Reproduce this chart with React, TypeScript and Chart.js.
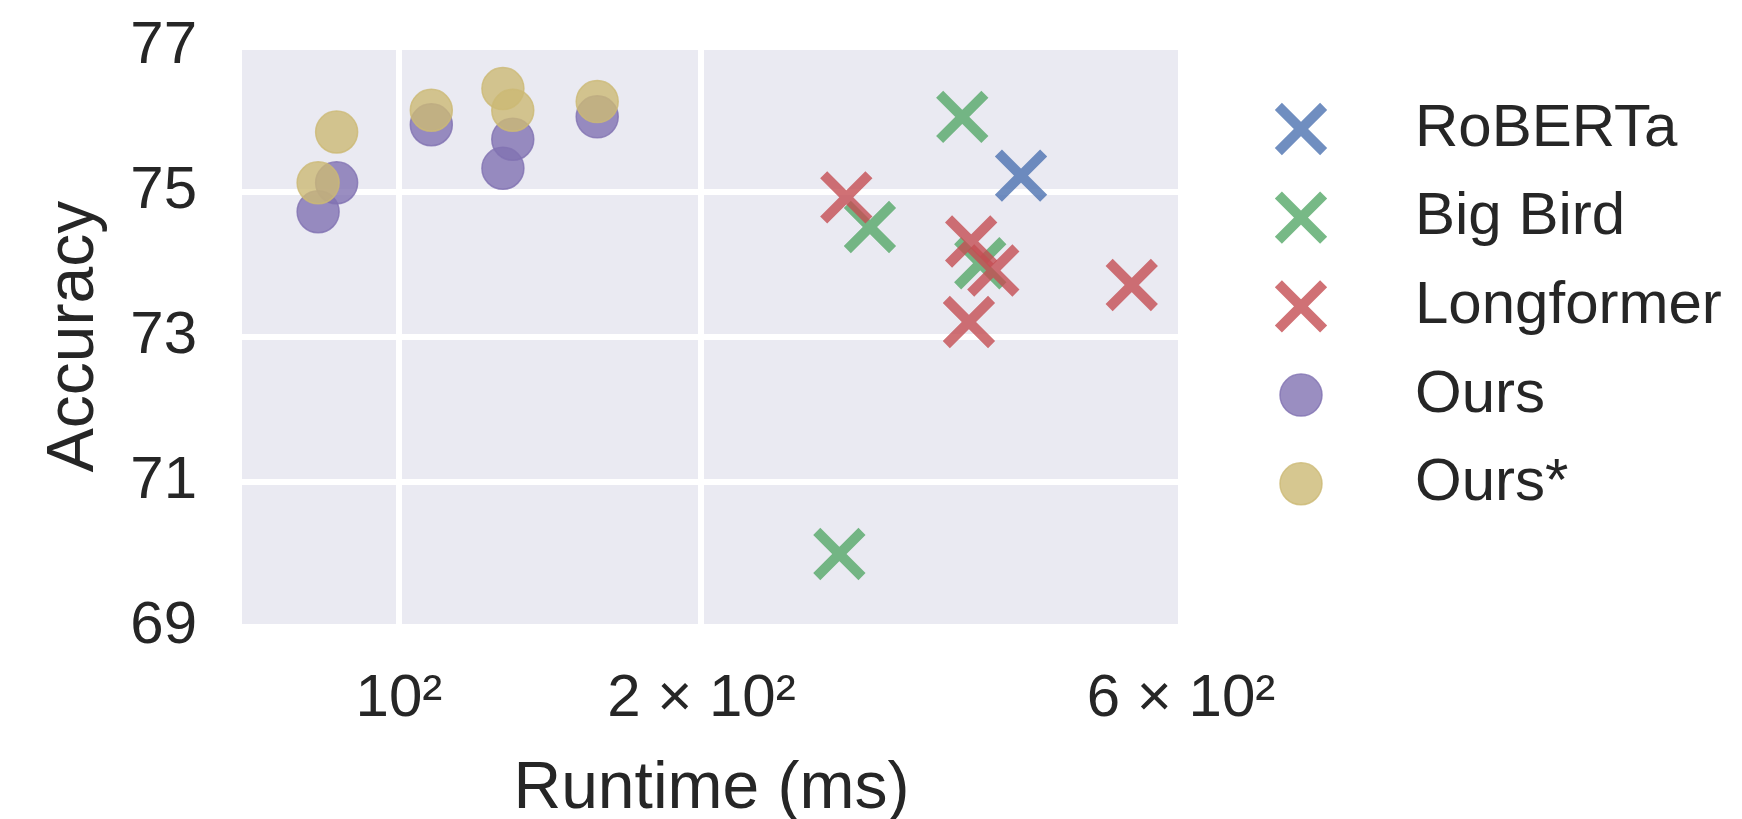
import React, { useEffect, useRef } from 'react';
import { Chart, registerables } from 'chart.js';
import { drawPoint } from 'chart.js/helpers';

Chart.register(...registerables);

// ---- data (runtime in ms, accuracy) ----
const SERIES_NAMES = ['RoBERTa', 'Big Bird', 'Longformer', 'Ours', 'Ours*'];

const robertaRuntime = [415.9];
const robertaAcc = [75.22];

const bigBirdRuntime = [363.5, 294.2, 378.8, 274.3];
const bigBirdAcc = [76.03, 74.51, 74.01, 70.0];

const longformerRuntime = [278.7, 371.0, 390.3, 369.1, 536.0];
const longformerAcc = [74.92, 74.31, 73.91, 73.2, 73.71];

const oursRuntime = [83.1, 86.7, 107.7, 126.9, 129.8, 157.5];
const oursAcc = [74.72, 75.12, 75.92, 75.32, 75.72, 76.03];

const oursStarRuntime = [83.1, 86.7, 107.7, 126.9, 129.8, 157.5];
const oursStarAcc = [75.12, 75.82, 76.12, 76.42, 76.12, 76.24];

const X_TICKS = [100, 200, 600];
const X_TICK_LABELS = ['10\u00B2', '2 \u00D7 10\u00B2', '6 \u00D7 10\u00B2'];
const Y_TICKS = [69, 71, 73, 75, 77];

const FONT = '"Liberation Sans", Arial, sans-serif';
const TEXT = '#262626';

const pts = (xs: number[], ys: number[]) => xs.map((x, i) => ({ x, y: ys[i] }));

const bgPlugin = {
  id: 'axesBg',
  beforeDraw(chart: any) {
    const { ctx, chartArea } = chart;
    ctx.save();
    ctx.fillStyle = '#EAEAF2';
    ctx.fillRect(chartArea.left, chartArea.top, chartArea.right - chartArea.left, chartArea.bottom - chartArea.top);
    ctx.restore();
  },
};

const legendPlugin = {
  id: 'sideLegend',
  afterDraw(chart: any) {
    const ctx = chart.ctx;
    const markerX = 1301;
    const textX = 1415;
    const top = 129;
    const step = 88.7;
    ctx.save();
    chart.data.datasets.forEach((ds: any, i: number) => {
      const y = top + i * step;
      ctx.fillStyle = ds.backgroundColor;
      ctx.strokeStyle = ds.borderColor;
      ctx.lineWidth = ds.borderWidth;
      drawPoint(ctx, { pointStyle: ds.pointStyle, radius: ds.pointRadius, rotation: 0, borderWidth: ds.borderWidth } as any, markerX, y);
      ctx.fillStyle = TEXT;
      ctx.font = `60px ${FONT}`;
      ctx.textAlign = 'left';
      ctx.textBaseline = 'middle';
      ctx.fillText(ds.label, textX, y);
    });
    ctx.restore();
  },
};

export default function App() {
  const ref = useRef<HTMLCanvasElement | null>(null);

  useEffect(() => {
    document.body.style.margin = '0';
    if (!ref.current) return;
    const cross = (label: string, color: string, data: any[], order: number) => ({
      label,
      data,
      pointStyle: 'crossRot',
      pointRadius: 32,
      borderWidth: 10,
      borderColor: color,
      backgroundColor: color,
      order,
    });
    const dot = (label: string, color: string, data: any[], order: number) => ({
      label,
      data,
      pointStyle: 'circle',
      pointRadius: 21,
      borderWidth: 1.5,
      borderColor: color,
      backgroundColor: color,
      order,
    });
    const chart = new Chart(ref.current, {
      type: 'scatter',
      data: {
        datasets: [
          cross(SERIES_NAMES[0], 'rgba(76,114,176,0.8)', pts(robertaRuntime, robertaAcc), 4),
          cross(SERIES_NAMES[1], 'rgba(85,168,104,0.8)', pts(bigBirdRuntime, bigBirdAcc), 3),
          cross(SERIES_NAMES[2], 'rgba(196,78,82,0.8)', pts(longformerRuntime, longformerAcc), 2),
          dot(SERIES_NAMES[3], 'rgba(129,114,178,0.8)', pts(oursRuntime, oursAcc), 1),
          dot(SERIES_NAMES[4], 'rgba(204,185,116,0.8)', pts(oursStarRuntime, oursStarAcc), 0),
        ] as any,
      },
      options: {
        responsive: false,
        animation: false,
        layout: { padding: { left: 0, top: 46.5, right: 561, bottom: 0 } },
        plugins: { legend: { display: false }, tooltip: { enabled: false } },
        scales: {
          x: {
            type: 'logarithmic',
            min: 69.8,
            max: 600,
            afterFit: (s: any) => { s.height = 192.5; s.paddingLeft = 0; s.paddingRight = 0; },
            afterBuildTicks: (s: any) => { s.ticks = X_TICKS.map((v) => ({ value: v })); },
            ticks: {
              autoSkip: false,
              maxRotation: 0,
              minRotation: 0,
              padding: 37,
              color: TEXT,
              font: { family: FONT, size: 60 },
              callback: (v: any) => {
                const i = X_TICKS.indexOf(Number(v));
                return i >= 0 ? X_TICK_LABELS[i] : '';
              },
            },
            grid: { color: '#FFFFFF', lineWidth: 6, drawTicks: false },
            border: { display: false },
            title: {
              display: true,
              text: 'Runtime (ms)',
              color: TEXT,
              font: { family: FONT, size: 66, lineHeight: 0.9 },
              padding: { top: 0, bottom: 0 },
            },
          },
          y: {
            type: 'linear',
            min: 69,
            max: 77,
            afterFit: (s: any) => { s.width = 242; s.paddingTop = 0; s.paddingBottom = 0; },
            afterBuildTicks: (s: any) => { s.ticks = Y_TICKS.map((v) => ({ value: v })); },
            ticks: {
              padding: 45,
              color: TEXT,
              font: { family: FONT, size: 60 },
              callback: (v: any) => String(v),
            },
            grid: { color: '#FFFFFF', lineWidth: 6, drawTicks: false },
            border: { display: false },
            title: {
              display: true,
              text: 'Accuracy',
              color: TEXT,
              font: { family: FONT, size: 66, lineHeight: 1 },
              padding: { top: 41.5, bottom: 0 },
            },
          },
        },
      } as any,
      plugins: [bgPlugin, legendPlugin],
    });
    return () => chart.destroy();
  }, []);

  return (
    <div style={{ width: 1742, height: 819 }}>
      <canvas ref={ref} width={1742} height={819} style={{ display: 'block' }} />
    </div>
  );
}
